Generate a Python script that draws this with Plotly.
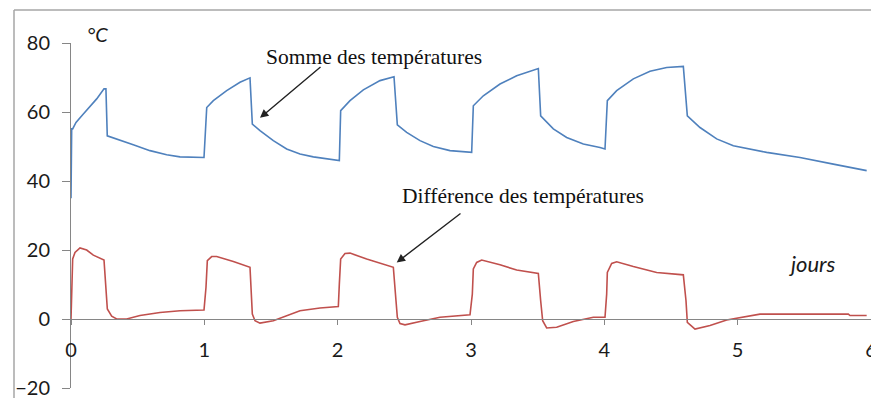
import plotly.graph_objects as go

# Somme des températures (blue)
days_sum = [0, 0.005, 0.0125, 0.0375, 0.0925, 0.1425, 0.1925, 0.2475, 0.262, 0.272, 0.343,
            0.467, 0.5925, 0.7175, 0.8175, 0.9975,
            1.018, 1.0675, 1.1675, 1.2675, 1.3425, 1.36, 1.4175, 1.5175, 1.6175, 1.7175,
            1.8175, 1.9175, 2.0125,
            2.0225, 2.0925, 2.1925, 2.3175, 2.4225, 2.4475, 2.5175, 2.6175, 2.7175, 2.8425,
            3.005,
            3.0175, 3.0925, 3.2175, 3.3425, 3.505, 3.5225, 3.6175, 3.7175, 3.8425, 3.9675,
            4.005,
            4.0225, 4.0925, 4.2175, 4.3425, 4.4675, 4.5925, 4.6225, 4.7175, 4.8425, 4.9675,
            5.2175, 5.4675, 5.7175, 5.9675]
somme = [35, 55.1, 55.1, 57.0, 59.4, 61.5, 63.8, 66.7, 66.7, 53.1, 52.2,
         50.5, 48.8, 47.6, 47.0, 46.8,
         61.3, 63.3, 66.2, 68.6, 69.9, 56.5, 54.6, 51.7, 49.3, 47.8,
         47.0, 46.4, 45.9,
         60.4, 63.3, 66.4, 69.1, 70.2, 56.3, 54.1, 51.7, 50.0, 48.8,
         48.3,
         61.8, 64.7, 68.1, 70.5, 72.6, 58.9, 55.1, 52.6, 50.7, 49.7,
         49.3,
         63.3, 66.2, 69.6, 71.8, 72.9, 73.2, 58.9, 55.5, 52.2, 50.2,
         48.3, 46.8, 44.9, 43.0]

# Différence des températures (red)
days_diff = [0, 0.0075, 0.0125, 0.03, 0.0675, 0.1175, 0.1675, 0.2475, 0.2625, 0.2725, 0.305,
             0.3425, 0.4175, 0.5175, 0.6675, 0.8175, 0.9975,
             1.0125, 1.0225, 1.055, 1.0925, 1.2175, 1.3425, 1.36, 1.38, 1.4175, 1.5175,
             1.6425, 1.7175, 1.8675, 2.005,
             2.0125, 2.0225, 2.055, 2.0925, 2.2175, 2.3175, 2.4175, 2.4375, 2.4475, 2.4675,
             2.505, 2.6175, 2.7675, 2.9925,
             3.01, 3.0175, 3.0425, 3.08, 3.2175, 3.3425, 3.505, 3.5225, 3.5375, 3.5675,
             3.6425, 3.7675, 3.9175, 4.005,
             4.0175, 4.0225, 4.055, 4.0925, 4.2175, 4.3925, 4.5925, 4.6125, 4.6225, 4.68,
             4.7925, 4.9175, 5.005, 5.1675, 5.83, 5.8425, 5.9675]
difference = [0, 10.1, 17.4, 19.3, 20.6, 20.0, 18.5, 17.1, 10.1, 2.9, 0.8,
              0, 0, 1.0, 1.9, 2.4, 2.6,
              9.2, 16.9, 18.1, 18.1, 16.7, 15.0, 1.4, -0.5, -1.2, -0.5,
              1.4, 2.4, 3.2, 3.6,
              10.1, 17.4, 19.0, 19.1, 17.4, 16.1, 15.0, 5.3, 0.5, -1.3,
              -1.7, -0.7, 0.5, 1.2,
              7.2, 14.5, 16.4, 17.1, 15.7, 14.2, 13.2, 5.3, -0.5, -2.6,
              -2.4, -0.7, 0.5, 0.5,
              7.2, 13.5, 16.1, 16.6, 15.2, 13.5, 12.8, 5.3, -1.0, -2.9,
              -1.9, -0.3, 0.3, 1.4, 1.4, 1.0, 1.0]

x_ticks = [0, 1, 2, 3, 4, 5, 6]
y_ticks = [-20, 0, 20, 40, 60, 80]

fig = go.Figure()
fig.add_trace(go.Scatter(x=days_sum, y=somme, mode="lines",
                         line=dict(color="#4F81BD", width=1.6), showlegend=False))
fig.add_trace(go.Scatter(x=days_diff, y=difference, mode="lines",
                         line=dict(color="#C0504D", width=1.6), showlegend=False))

axis_gray = "#868686"
tick_font = dict(family="Lato", size=20, color="#1a1a1a")

fig.update_layout(
    width=871, height=398,
    margin=dict(l=71, r=0, t=43, b=10),
    paper_bgcolor="white", plot_bgcolor="white",
    xaxis=dict(range=[0, 6], tickvals=x_ticks, ticktext=[str(t) for t in x_ticks],
               showgrid=False, zeroline=False, showline=True, linecolor=axis_gray,
               linewidth=1, ticks="outside", ticklen=5, tickcolor=axis_gray,
               anchor="free", position=0.2, tickfont=tick_font, automargin=False,
               ticklabeloverflow="allow", ticklabelstandoff=8),
    yaxis=dict(range=[-20, 80], tickvals=y_ticks, showgrid=False, zeroline=False,
               showline=True, linecolor=axis_gray, linewidth=1, ticks="outside",
               ticklen=8, tickcolor=axis_gray, tickfont=tick_font, automargin=False,
               ticklabeloverflow="allow", ticklabelstandoff=8),
)

# Outer chart-area frame (left and top edges visible in the reference)
frame = dict(color="#a6a6a6", width=1.5)
fig.add_shape(type="line", xref="paper", yref="paper",
              x0=-0.07125, x1=-0.07125, y0=-0.5, y1=1.0957, line=frame)
fig.add_shape(type="line", xref="paper", yref="paper",
              x0=-0.07125, x1=1.5, y0=1.0957, y1=1.0957, line=frame)

serif = dict(family="Liberation Serif", size=21.5, color="#111111")
fig.add_annotation(x=2.269, y=76.0, text="Somme des températures", showarrow=False,
                   font=serif)
fig.add_annotation(x=3.39, y=35.7, text="Différence des températures", showarrow=False,
                   font=serif)
fig.add_annotation(x=1.4175, y=58.3, ax=1.8825, ay=73.4, axref="x", ayref="y",
                   text="", showarrow=True, arrowhead=2, arrowsize=1.2,
                   arrowwidth=1.4, arrowcolor="#222222")
fig.add_annotation(x=2.443, y=16.4, ax=2.9325, ay=30.9, axref="x", ayref="y",
                   text="", showarrow=True, arrowhead=2, arrowsize=1.2,
                   arrowwidth=1.4, arrowcolor="#222222")
fig.add_annotation(xref="paper", yref="paper", x=0.0175, y=1.0667, text="<i>°C</i>",
                   showarrow=False, font=dict(family="Lato", size=20, color="#1a1a1a"))
fig.add_annotation(x=5.561, y=16.0, text="<i>jours</i>", showarrow=False,
                   font=dict(family="Lato", size=22, color="#1a1a1a"))

fig.write_html("out.html")
